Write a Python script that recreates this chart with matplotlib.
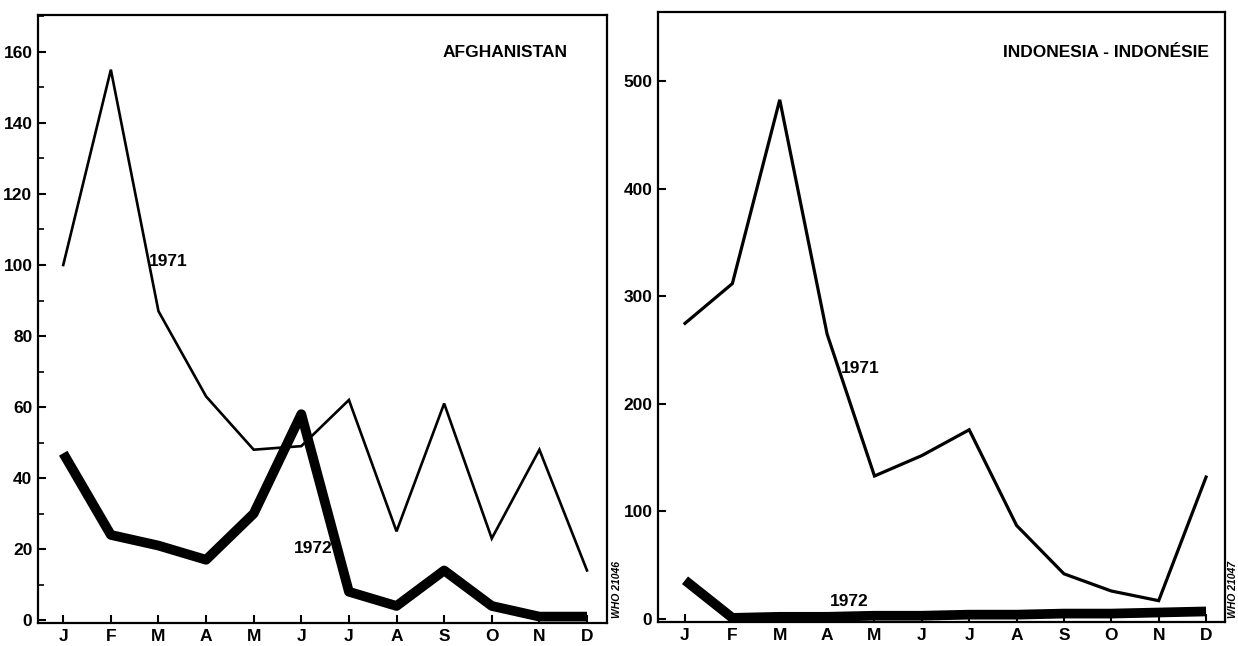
import matplotlib
matplotlib.use("Agg")
import matplotlib.pyplot as plt
from matplotlib.ticker import MultipleLocator

plt.rcParams['font.family'] = ['Liberation Sans Narrow', 'Liberation Sans', 'DejaVu Sans']
plt.rcParams['font.weight'] = 'bold'

months = ["J", "F", "M", "A", "M", "J", "J", "A", "S", "O", "N", "D"]

afg_1971 = [100, 155, 87, 63, 48, 49, 62, 25, 61, 23, 48, 14]
afg_1972 = [47, 24, 21, 17, 30, 58, 8, 4, 14, 4, 1, 1]

idn_1971 = [275, 312, 483, 265, 133, 152, 176, 87, 42, 26, 17, 132]
idn_1972 = [36, 1, 2, 2, 3, 3, 4, 4, 5, 5, 6, 7]

afg_yticks = [0, 20, 40, 60, 80, 100, 120, 140, 160]
idn_yticks = [0, 100, 200, 300, 400, 500]

fig = plt.figure(figsize=(12.38, 6.46), dpi=100)
fig.patch.set_facecolor("white")

ax1 = fig.add_axes([0.0307, 0.0356, 0.4596, 0.9412])
ax2 = fig.add_axes([0.5315, 0.0372, 0.4580, 0.9443])

x = list(range(len(months)))

def style(ax, yticks, ylim, minor):
    ax.set_xlim(-0.53, 11.42)
    ax.set_ylim(*ylim)
    ax.set_xticks(x)
    ax.set_xticklabels(months)
    ax.set_yticks(yticks)
    if minor:
        ax.yaxis.set_minor_locator(MultipleLocator(minor))
    ax.tick_params(axis='both', which='major', direction='in', length=6, width=1.5,
                   labelsize=12.5, pad=4, colors='black')
    ax.tick_params(axis='both', which='minor', direction='in', length=4, width=1.2)
    for lab in ax.get_xticklabels() + ax.get_yticklabels():
        lab.set_fontweight('bold')
    for s in ax.spines.values():
        s.set_linewidth(1.6)
        s.set_color('black')

# Afghanistan
ax1.plot(x, afg_1971, color='black', lw=1.9, solid_joinstyle='miter')
ax1.plot(x, afg_1972, color='black', lw=7.0, solid_joinstyle='round', solid_capstyle='butt')
style(ax1, afg_yticks, (-0.8, 170.4), 10)
ax1.text(0.82, 0.939, "AFGHANISTAN", transform=ax1.transAxes, ha='center', va='center',
         fontsize=12.5, fontweight='bold')
ax1.text(2.2, 101, "1971", ha='center', va='center', fontsize=12.5, fontweight='bold')
ax1.text(5.25, 20.3, "1972", ha='center', va='center', fontsize=12.5, fontweight='bold')

# Indonesia
ax2.plot(x, idn_1971, color='black', lw=2.3, solid_joinstyle='miter')
ax2.plot(x, idn_1972, color='black', lw=7.0, solid_joinstyle='round', solid_capstyle='butt')
style(ax2, idn_yticks, (-2.8, 564.7), None)
ax2.set_xlim(-0.57, 11.4)
ax2.text(0.79, 0.934, "INDONESIA - INDONÉSIE", transform=ax2.transAxes, ha='center', va='center',
         fontsize=12.5, fontweight='bold')
ax2.text(3.69, 233, "1971", ha='center', va='center', fontsize=12.5, fontweight='bold')
ax2.text(3.46, 15.8, "1972", ha='center', va='center', fontsize=12.5, fontweight='bold')

fig.text(617 / 1238, 1 - 590 / 646, "WHO 21046", rotation=90, ha='center', va='center',
         fontsize=7.5, fontstyle='italic', fontweight='bold')
fig.text(1233 / 1238, 1 - 590 / 646, "WHO 21047", rotation=90, ha='center', va='center',
         fontsize=7.5, fontstyle='italic', fontweight='bold')

fig.savefig("out.png", dpi=100, facecolor='white')
